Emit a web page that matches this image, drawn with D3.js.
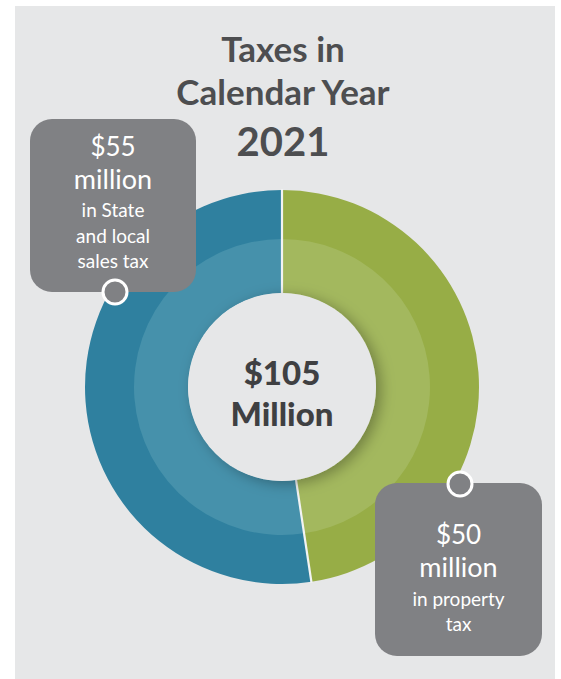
<!DOCTYPE html>
<html><head><meta charset="utf-8">
<script src="https://cdn.jsdelivr.net/npm/d3@7"></script>
<style>html,body{margin:0;padding:0;background:#fff;}svg{display:block;}</style>
</head><body>
<svg id="chart" width="561" height="679"></svg>
<script>
const categories = ["Property tax", "State and local sales tax"];
const values = [50, 55];
const totalLabel = ["$105", "Million"];
const titleLines = ["Taxes in", "Calendar Year", "2021"];
const calloutProperty = ["$50", "million", "in property", "tax"];
const calloutSales = ["$55", "million", "in State", "and local", "sales tax"];
const outerColors = ["#97ad46", "#2f809f"];
const innerColors = ["#a3b85e", "#4691ab"];

const svg = d3.select("#chart");
const font = "Lato, 'Open Sans', sans-serif";
const bg = "#e6e7e8", boxFill = "#808184";

svg.append("rect").attr("x", 15).attr("y", 6).attr("width", 540).attr("height", 673).attr("fill", bg);

const defs = svg.append("defs");
const f = defs.append("filter").attr("id", "sh").attr("x", "-30%").attr("y", "-30%").attr("width", "160%").attr("height", "160%");
f.append("feDropShadow").attr("dx", 5).attr("dy", 3).attr("stdDeviation", 7).attr("flood-color", "#000").attr("flood-opacity", 0.3);

// Title
const title = svg.append("g").attr("font-family", font).attr("font-weight", 700).attr("fill", "#4d4e50").attr("text-anchor", "middle");
title.append("text").attr("x", 283).attr("y", 62).attr("font-size", 35).text(titleLines[0]);
title.append("text").attr("x", 283).attr("y", 105).attr("font-size", 35).text(titleLines[1]);
title.append("text").attr("x", 283).attr("y", 156).attr("font-size", 40).text(titleLines[2]);

// Donut
const cx = 282, cy = 387;
const R = 197, Rmid = 148, Rin = 94;
const pie = d3.pie().sort(null).value(d => d);
const arcs = pie(values);
const g = svg.append("g").attr("transform", `translate(${cx},${cy})`);
const outerArc = d3.arc().innerRadius(Rin).outerRadius(R);
const innerArc = d3.arc().innerRadius(Rin).outerRadius(Rmid);
g.selectAll("path.o").data(arcs).join("path").attr("class", "o")
  .attr("d", outerArc).attr("fill", (d, i) => outerColors[i]);
g.selectAll("path.i").data(arcs).join("path").attr("class", "i")
  .attr("d", innerArc).attr("fill", (d, i) => innerColors[i]);
// separators
g.selectAll("line.sep").data(arcs).join("line").attr("class", "sep")
  .attr("x1", d => Rin * Math.sin(d.startAngle)).attr("y1", d => -Rin * Math.cos(d.startAngle))
  .attr("x2", d => (R + 1) * Math.sin(d.startAngle)).attr("y2", d => -(R + 1) * Math.cos(d.startAngle))
  .attr("stroke", "#f2f3f3").attr("stroke-width", 2.2);
// hole
g.append("circle").attr("r", Rin).attr("fill", bg).attr("filter", "url(#sh)");

const center = g.append("g").attr("font-family", font).attr("font-weight", 900).attr("fill", "#3f4042").attr("text-anchor", "middle");
center.append("text").attr("y", -2).attr("font-size", 33).text(totalLabel[0]);
center.append("text").attr("y", 39).attr("font-size", 33).text(totalLabel[1]);

// Callouts
function callout(x, y, w, h, dotX, dotY, lines, baselines, sizes) {
  const cg = svg.append("g");
  cg.append("rect").attr("x", x).attr("y", y).attr("width", w).attr("height", h).attr("rx", 22).attr("fill", boxFill);
  const tg = cg.append("g").attr("font-family", font).attr("fill", "#fff").attr("text-anchor", "middle").attr("font-weight", 400);
  lines.forEach((t, i) => tg.append("text").attr("x", x + w / 2).attr("y", baselines[i]).attr("font-size", sizes[i]).text(t));
  cg.append("circle").attr("cx", dotX).attr("cy", dotY).attr("r", 12).attr("fill", boxFill).attr("stroke", "#fff").attr("stroke-width", 3);
}
callout(30, 119, 166, 173, 115, 292, calloutSales, [156, 189, 217, 243, 268], [26, 27, 19, 19, 19]);
callout(375, 483, 167, 173, 460, 484, calloutProperty, [544, 577, 606, 631], [26, 27, 19, 19]);
</script>
</body></html>
